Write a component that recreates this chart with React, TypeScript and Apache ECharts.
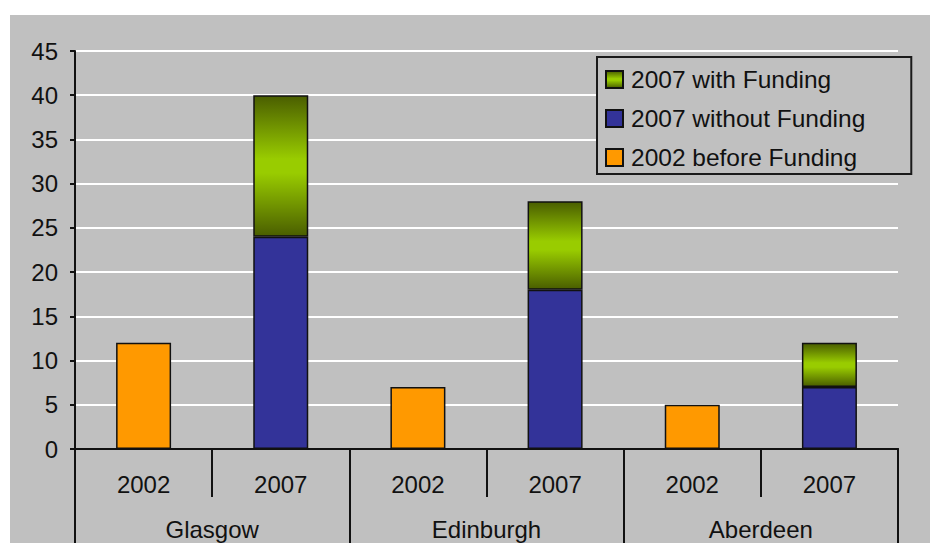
import React, { useEffect, useRef } from "react";
import * as echarts from "echarts";

// Slots along the x axis: one bar per year within each city
const yearLabels = ["2002", "2007", "2002", "2007", "2002", "2007"];
const cities = ["Glasgow", "Edinburgh", "Aberdeen"];

// Values per slot ("-" leaves a slot empty)
const before2002 = [12, "-", 7, "-", 5, "-"];
const without2007 = ["-", 24, "-", 18, "-", 7];
const withFunding2007 = ["-", 16, "-", 10, "-", 5];

const yTicks = { min: 0, max: 45, interval: 5 };

const FONT = "'Liberation Sans', Arial, sans-serif";

export default function App() {
  const ref = useRef<HTMLDivElement>(null);

  useEffect(() => {
    if (!ref.current) return;
    const chart = echarts.init(ref.current, null, { renderer: "svg" });

    const greenGradient = {
      type: "linear",
      x: 0,
      y: 0,
      x2: 0,
      y2: 1,
      colorStops: [
        { offset: 0, color: "#4a5e00" },
        { offset: 0.45, color: "#99cc00" },
        { offset: 0.55, color: "#99cc00" },
        { offset: 1, color: "#4a5e00" },
      ],
    };

    const barBorder = { borderColor: "#111", borderWidth: 1.5 };

    chart.setOption({
      animation: false,
      backgroundColor: "#ffffff",
      textStyle: { fontFamily: FONT },
      graphic: [
        {
          type: "rect",
          z: -10,
          silent: true,
          shape: { x: 10, y: 15, width: 920, height: 528 },
          style: { fill: "#c0c0c0" },
        },
      ],
      grid: { left: 75, right: 32, top: 51, bottom: 94, containLabel: false },
      legend: {
        orient: "vertical",
        left: 597,
        top: 57,
        padding: [10, 46, 4, 8],
        itemGap: 14,
        itemWidth: 17,
        itemHeight: 17,
        icon: "rect",
        borderColor: "#1a1a1a",
        borderWidth: 2,
        backgroundColor: "#c0c0c0",
        data: ["2007 with Funding", "2007 without Funding", "2002 before Funding"],
        textStyle: {
          fontFamily: FONT,
          fontSize: 24.5,
          lineHeight: 24,
          color: "#111",
          padding: [0, 0, 0, 3],
        },
      },
      xAxis: [
        {
          type: "category",
          data: yearLabels,
          position: "bottom",
          offset: 0,
          axisLine: { show: true, lineStyle: { color: "#111", width: 2 } },
          axisTick: {
            show: true,
            interval: 0,
            length: 48,
            lineStyle: { color: "#111", width: 2 },
          },
          axisLabel: {
            interval: 0,
            margin: 23,
            fontFamily: FONT,
            fontSize: 24,
            lineHeight: 24,
            color: "#111",
          },
          splitLine: { show: false },
        },
        {
          type: "category",
          data: cities,
          position: "bottom",
          offset: 0,
          axisLine: { show: true, lineStyle: { color: "#111", width: 2 } },
          axisTick: {
            show: true,
            interval: 0,
            length: 110,
            lineStyle: { color: "#111", width: 2 },
          },
          axisLabel: {
            interval: 0,
            margin: 68,
            fontFamily: FONT,
            fontSize: 24,
            lineHeight: 24,
            color: "#111",
          },
          splitLine: { show: false },
        },
      ],
      yAxis: {
        type: "value",
        min: yTicks.min,
        max: yTicks.max,
        interval: yTicks.interval,
        axisLine: { show: true, lineStyle: { color: "#111", width: 2 } },
        axisTick: { show: true, length: 5, lineStyle: { color: "#111", width: 2 } },
        axisLabel: {
          margin: 17,
          fontFamily: FONT,
          fontSize: 24,
          color: "#111",
          padding: [4, 0, 0, 0],
        },
        splitLine: { show: true, lineStyle: { color: "#ffffff", width: 2 } },
      },
      series: [
        {
          name: "2002 before Funding",
          type: "bar",
          stack: "total",
          xAxisIndex: 0,
          barWidth: 55,
          data: before2002,
          itemStyle: { color: "#ff9900", ...barBorder },
        },
        {
          name: "2007 without Funding",
          type: "bar",
          stack: "total",
          xAxisIndex: 0,
          barWidth: 55,
          data: without2007,
          itemStyle: { color: "#333399", ...barBorder },
        },
        {
          name: "2007 with Funding",
          type: "bar",
          stack: "total",
          xAxisIndex: 0,
          barWidth: 55,
          data: withFunding2007,
          itemStyle: { color: greenGradient, ...barBorder },
        },
      ],
    });

    return () => chart.dispose();
  }, []);

  return (
    <div
      ref={ref}
      style={{ position: "fixed", left: 0, top: 0, width: 930, height: 543 }}
    />
  );
}
